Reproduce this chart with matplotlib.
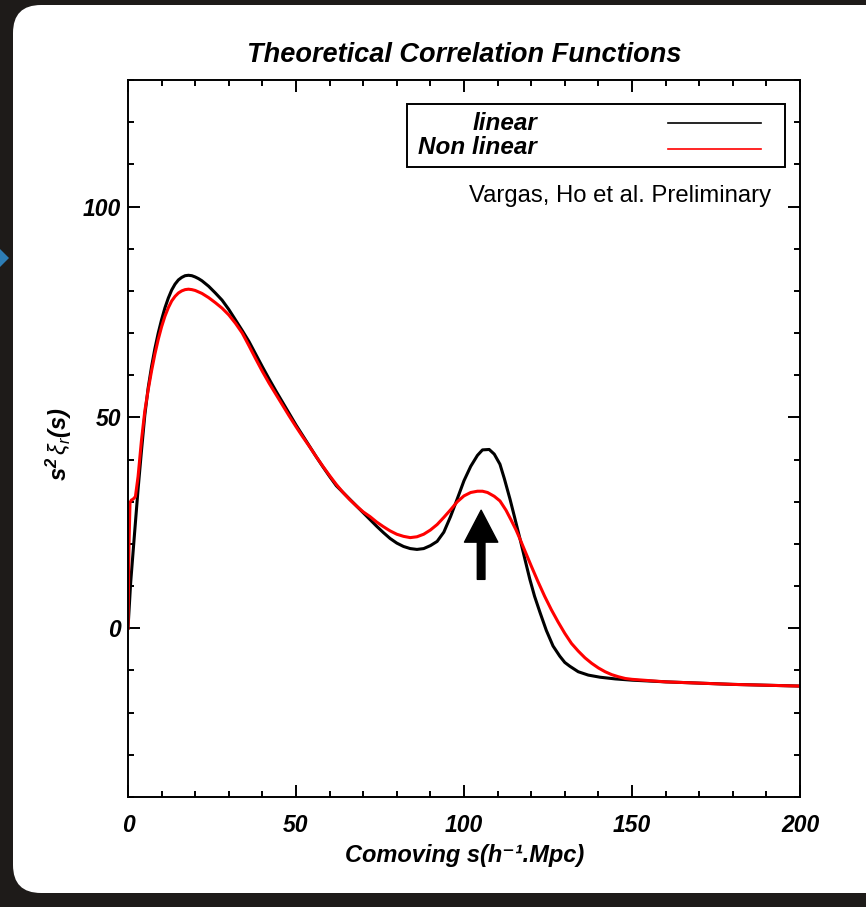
import matplotlib
matplotlib.use("Agg")
import matplotlib.pyplot as plt
from matplotlib.patches import FancyBboxPatch, Polygon, Rectangle
from matplotlib.transforms import IdentityTransform
from matplotlib.ticker import MultipleLocator

# ---------------- data ----------------
title = "Theoretical Correlation Functions"
series_labels = ["linear", "Non linear"]
series_colors = ["black", "red"]
credit = "Vargas, Ho et al. Preliminary"
xlabel = "Comoving s(h\u207b\u00b9.Mpc)"
ylabel = r"$\mathbf{s}^{\mathbf{2}}\,\xi_{r}\mathbf{(s)}$"

s_linear = [0, 0.8, 2, 3, 4, 5, 6, 7, 8, 9, 10, 11, 12, 13, 14, 15, 16, 17, 18, 19,
            20, 21, 22, 24, 26, 28, 30, 32, 34, 36, 38, 40, 42, 44, 46, 48, 50, 52,
            54, 56, 58, 60, 62, 64, 66, 68, 70, 72, 74, 76, 78, 80, 82, 84, 86, 88,
            90, 92, 94, 96, 98, 100, 102, 104, 105.5, 107.5, 109, 110.7, 112, 113.7,
            115, 116.7, 118, 119.6, 121, 122.6, 124.5, 126.5, 128.5, 130, 131.5, 134,
            137, 140.5, 145, 150, 160, 170, 180, 190, 200]
xi_linear = [0, 10.9, 23, 33, 42, 50.5, 57, 62, 66.3, 70, 73.2, 76, 78.3, 80.2, 81.6,
             82.6, 83.2, 83.6, 83.7, 83.6, 83.3, 82.9, 82.4, 81.1, 79.5, 77.8, 75.6,
             73.1, 70.6, 68.0, 65.0, 62.0, 59.1, 56.3, 53.6, 50.9, 48.2, 45.7, 43.2,
             40.7, 38.3, 36.0, 33.8, 32.2, 30.6, 29.0, 27.4, 25.8, 24.2, 22.7, 21.3,
             20.2, 19.4, 18.9, 18.7, 18.9, 19.6, 20.6, 22.8, 26.5, 30.7, 35.0, 38.4,
             41.0, 42.3, 42.4, 41.3, 38.9, 35.5, 30.6, 26.5, 21.1, 16.8, 11.6, 7.6,
             3.8, -0.5, -4.2, -6.6, -8.1, -9.0, -10.3, -11.1, -11.6, -12.0, -12.3,
             -12.7, -13.0, -13.3, -13.5, -13.7]

s_nonlinear = [0, 0.3, 0.6, 1, 1.5, 2.2, 3, 4, 5, 6, 7, 8, 9, 10, 11, 12, 13, 14, 15,
               16, 17, 18, 19, 20, 22, 24, 26, 28, 30, 32, 34, 36, 38, 40, 42, 44, 46,
               48, 50, 52, 54, 56, 58, 60, 62, 64, 66, 68, 70, 72, 74, 76, 78, 80, 82,
               84, 86, 88, 90, 92, 94, 96, 98, 100, 102, 104, 105.5, 107, 109, 110.7,
               112.5, 114, 115.5, 116.7, 118, 120, 122, 124, 126, 128, 130, 132, 134,
               136, 138, 140, 142, 144, 146, 148, 150, 155, 160, 170, 180, 190, 200]
xi_nonlinear = [0, 20, 29.8, 30.4, 30.6, 31.2, 36, 44.5, 51.5, 56.5, 61, 65, 68.5,
                71.5, 74, 76, 77.6, 78.7, 79.5, 80, 80.3, 80.4, 80.3, 80.1, 79.4, 78.4,
                77.2, 75.9, 74.3, 72.3, 70.0, 67.0, 63.9, 60.9, 58.1, 55.5, 52.9, 50.3,
                47.8, 45.4, 43.1, 40.7, 38.4, 36.2, 34.1, 32.2, 30.5, 29.0, 27.6, 26.5,
                25.2, 24.1, 23.1, 22.3, 21.8, 21.5, 21.7, 22.3, 23.3, 24.6, 26.3, 28.1,
                30.0, 31.4, 32.2, 32.5, 32.5, 32.2, 31.3, 30.2, 28.0, 25.7, 23.3, 21.1,
                18.6, 14.8, 11.1, 7.6, 4.4, 1.5, -1.2, -3.6, -5.4, -7.0, -8.3, -9.4,
                -10.3, -11.0, -11.5, -11.9, -12.1, -12.4, -12.7, -13.0, -13.3, -13.5,
                -13.7]

arrow_s = 105.1
arrow_tail = 11.6
arrow_tip = 28.0

x_range = (0, 200)
y_range = (-40, 130)
x_major = [0, 50, 100, 150, 200]
y_major = [0, 50, 100]

# ---------------- style ----------------
FAMILY = ["Liberation Sans", "DejaVu Sans"]
plt.rcParams["mathtext.fontset"] = "custom"
plt.rcParams["mathtext.bf"] = "Liberation Sans:bold:italic"
plt.rcParams["mathtext.it"] = "Liberation Sans:italic"
plt.rcParams["mathtext.rm"] = "Liberation Sans"
plt.rcParams["font.family"] = FAMILY

W, H = 866, 907
fig = plt.figure(figsize=(W / 100, H / 100), dpi=100)
fig.patch.set_facecolor("#1e1b19")

# white rounded panel (display pixel coordinates)
panel = FancyBboxPatch((13, 14), 900, 888,
                       boxstyle="round,pad=0,rounding_size=28",
                       transform=IdentityTransform(), facecolor="white",
                       edgecolor="none", zorder=-10)
fig.patches.append(panel)
diamond = Polygon([(-14, H - 235), (9, H - 258), (-14, H - 281), (-37, H - 258)],
                  closed=True, transform=IdentityTransform(),
                  facecolor="#2d7db5", edgecolor="none", zorder=-9)
fig.patches.append(diamond)

ax = fig.add_axes([128 / W, 1 - 797 / H, 672 / W, 717 / H])
ax.set_zorder(1)
ax.set_facecolor("white")

ax.plot(s_linear, xi_linear, color=series_colors[0], lw=2.2)
ax.plot(s_nonlinear, xi_nonlinear, color=series_colors[1], lw=2.2)

ax.annotate("", xy=(arrow_s, arrow_tip), xytext=(arrow_s, arrow_tail),
            arrowprops=dict(facecolor="black", edgecolor="black", width=5.5,
                            headwidth=24, headlength=23, shrink=0))

ax.set_xlim(*x_range)
ax.set_ylim(*y_range)
ax.set_xticks(x_major)
ax.set_yticks(y_major)
ax.xaxis.set_minor_locator(MultipleLocator(10))
ax.yaxis.set_minor_locator(MultipleLocator(10))
ax.tick_params(which="both", direction="in", top=True, right=True, width=1.4)
ax.tick_params(which="major", length=8.6)
ax.tick_params(which="minor", length=4.3)
ax.tick_params(axis="x", which="major", pad=12)
ax.tick_params(axis="y", which="major", pad=5)
for lab in ax.get_xticklabels() + ax.get_yticklabels():
    lab.set_fontsize(16.5)
    lab.set_fontweight("bold")
    lab.set_fontstyle("italic")
for sp in ax.spines.values():
    sp.set_linewidth(1.4)

ax.text(0.5, (797 - 62) / 717, title, transform=ax.transAxes, ha="center",
        va="baseline", fontsize=19.5, fontweight="bold", fontstyle="italic")
ax.text((465 - 128) / 672, (797 - 862) / 717, xlabel, transform=ax.transAxes,
        ha="center", va="baseline", fontsize=17, fontweight="bold",
        fontstyle="italic", family=FAMILY)
fig.text(59 / W, 1 - 444 / H, ylabel, rotation=90, ha="center", va="center",
         fontsize=17)

# legend box drawn by hand
ax.add_patch(Rectangle((279 / 672, (797 - 167) / 717), (785 - 407) / 672,
                       (167 - 104) / 717, transform=ax.transAxes, facecolor="white",
                       edgecolor="black", lw=1.4, zorder=5))
leg_text_y = [(797 - 130) / 717, (797 - 154) / 717]
leg_line_y = [(797 - 123.3) / 717, (797 - 149) / 717]
for lab, col, ty, ly in zip(series_labels, series_colors, leg_text_y, leg_line_y):
    ax.text((537 - 128) / 672, ty, lab, transform=ax.transAxes, ha="right",
            va="baseline", fontsize=17.5, fontweight="bold", fontstyle="italic",
            zorder=6)
    ax.plot([(668 - 128) / 672, (761 - 128) / 672], [ly, ly], transform=ax.transAxes,
            color=col, lw=1.2, zorder=6)

ax.text((771 - 128) / 672, (797 - 202) / 717, credit, transform=ax.transAxes,
        ha="right", va="baseline", fontsize=17.2)

fig.savefig("out.png", dpi=100, facecolor=fig.get_facecolor())
